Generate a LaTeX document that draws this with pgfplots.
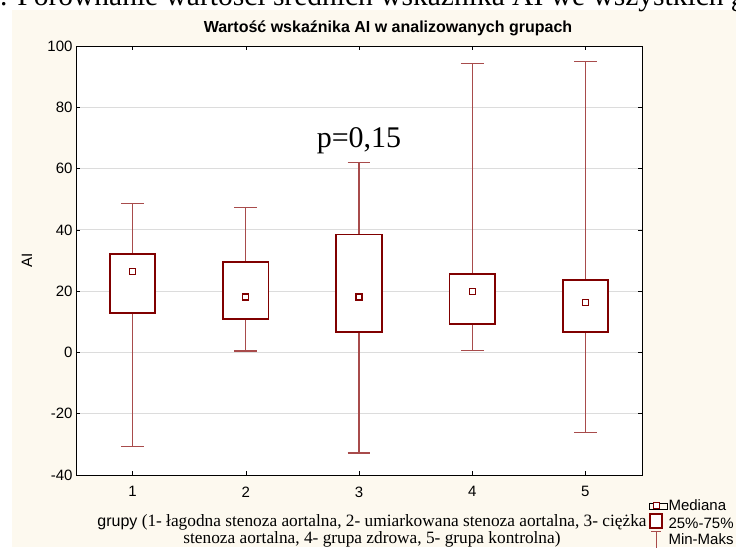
\documentclass[border=0pt]{standalone}
\usepackage{fontspec}
\setmainfont{Liberation Serif}
\setsansfont{Liberation Sans}
\usepackage{pgfplots}
\pgfplotsset{compat=1.18}
\usepgfplotslibrary{statistics}
\definecolor{boxred}{HTML}{800000}
\definecolor{whiskred}{HTML}{A84B4B}
\definecolor{cream}{HTML}{FDF9EF}
\definecolor{gridgray}{HTML}{DCDCDC}

\begin{document}
\begin{tikzpicture}[x=1pt,y=1pt]
\useasboundingbox (0,0) rectangle (736,-547);
\clip (0,0) rectangle (736,-547);
\fill[white] (0,0) rectangle (736,-547);
\fill[cream] (12,-10) rectangle (736,-547);
\node[anchor=base west, inner sep=0pt, font=\fontsize{29.5}{31}\selectfont] at (0,-5) {. Porównanie wartości średnich wskaźnika AI we wszystkich grupach};
\node[anchor=base, inner sep=0pt, font=\sffamily\bfseries\fontsize{16}{18}\selectfont] at (388,-32) {Wartość wskaźnika AI w analizowanych grupach};
\node[rotate=90, inner sep=0pt, font=\sffamily\fontsize{15}{17}\selectfont] at (27,-260) {AI};
\node[anchor=base, inner sep=0pt, align=center, font=\fontsize{17.3}{17}\selectfont] at (372,-543) {{\sffamily\fontsize{16}{17}\selectfont grupy} (1- łagodna stenoza aortalna, 2- umiarkowana stenoza aortalna, 3- ciężka\\stenoza aortalna, 4- grupa zdrowa, 5- grupa kontrolna)};

\begin{axis}[
  at={(76pt,-475pt)}, anchor=south west,
  scale only axis, width=566pt, height=429pt,
  xmin=0.5, xmax=5.5, ymin=-40, ymax=100,
  xtick={1,2,3,4,5}, ytick={-40,-20,0,20,40,60,80,100},
  tick align=inside, major tick length=4pt,
  tick pos=both,
  ymajorgrids, grid style={gridgray, line width=1pt},
  axis line style={black, line width=0.9pt},
  tick style={black, line width=0.6pt},
  ticklabel style={font=\sffamily\fontsize{15}{17}\selectfont},
  xticklabel style={yshift=-8pt},
  /pgf/number format/assume math mode=true,
  axis background/.style={fill=white},
  boxplot/draw direction=y,
  boxplot/box extend=0.4,
  boxplot/whisker extend=0.2,
  boxplot/every box/.style={draw=boxred, fill=white, line width=1.8pt},
  boxplot/every whisker/.style={draw=whiskred, line width=1.3pt},
  boxplot/every median/.style={draw=none},
  legend style={at={(1.007,-0.05)}, anchor=north west, draw=none, fill=none,
    font=\sffamily\fontsize{15}{17}\selectfont, row sep=0pt,
    nodes={inner sep=1pt}},
  legend cell align=left,
]
\addplot[forget plot, boxplot prepared={draw position=1, lower whisker=-30.6, lower quartile=13.0, median=26.3, upper quartile=32.1, upper whisker=48.5}] coordinates {};
\addplot[forget plot, boxplot prepared={draw position=2, lower whisker=0.5, lower quartile=11.0, median=18.1, upper quartile=29.4, upper whisker=47.3}] coordinates {};
\addplot[forget plot, boxplot prepared={draw position=3, lower whisker=-32.8, lower quartile=6.6, median=18.1, upper quartile=38.5, upper whisker=62.0}] coordinates {};
\addplot[forget plot, boxplot prepared={draw position=4, lower whisker=0.7, lower quartile=9.4, median=19.9, upper quartile=25.7, upper whisker=94.2}] coordinates {};
\addplot[forget plot, boxplot prepared={draw position=5, lower whisker=-26.1, lower quartile=6.8, median=16.2, upper quartile=23.6, upper whisker=94.9}] coordinates {};
\addplot[only marks, mark=square*, mark size=3pt, mark options={draw=boxred, fill=white, line width=1.2pt}, forget plot] coordinates {(1,26.3) (2,18.1) (3,18.1) (4,19.9) (5,16.2)};
\node[anchor=base, inner sep=0pt, font=\fontsize{30}{32}\selectfont] at (axis cs:3,67) {p=0,15};
\addlegendimage{legend image code/.code={\path (-7pt,-3pt) rectangle (11pt,3pt); \draw[boxred,line width=1pt,fill=white] (-3pt,-3pt) rectangle (3pt,3pt);}}
\addlegendentry{Mediana}
\addlegendimage{legend image code/.code={\path (-7pt,0) (11pt,0); \draw[boxred,line width=2pt,fill=white] (-6pt,-4pt) rectangle (6pt,10pt);}}
\addlegendentry{25\%-75\%}
\addlegendimage{legend image code/.code={\path (-7pt,0) (11pt,0); \draw[whiskred,line width=1pt] (-5pt,8pt) -- (5pt,8pt) (0,8pt) -- (0,-8pt);}}
\addlegendentry{Min-Maks}
\end{axis}
\end{tikzpicture}
\end{document}
